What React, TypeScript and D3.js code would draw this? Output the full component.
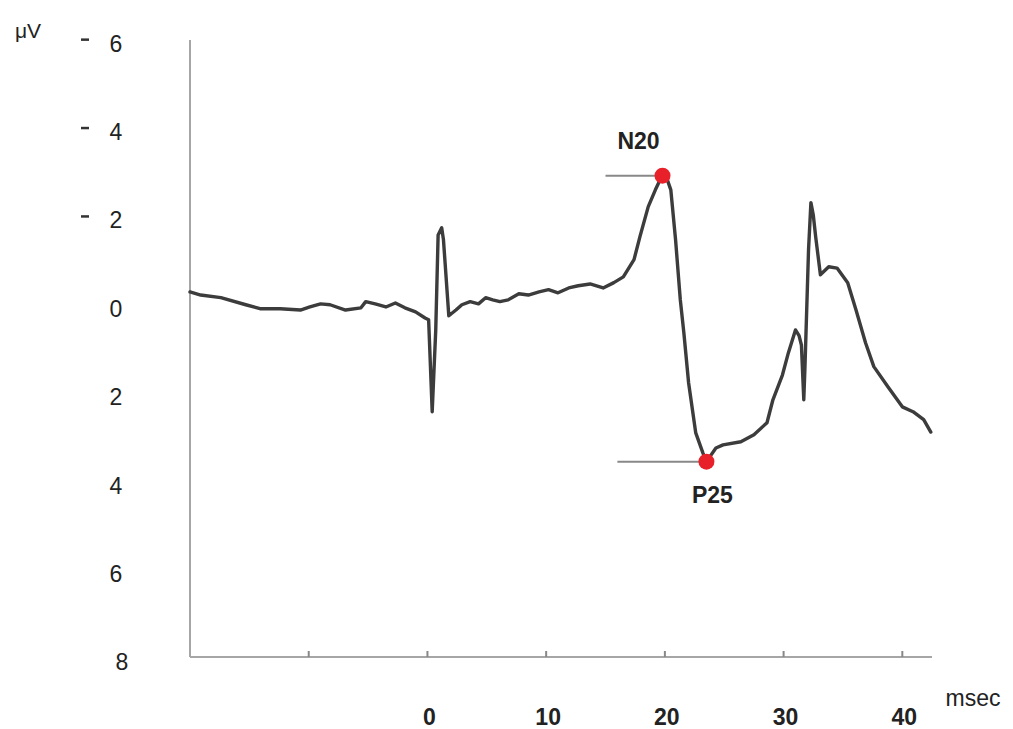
import React from "react";
import * as d3 from "d3";

// time (ms) of each sample
const timeMs = [
  -20.0, -19.1, -17.4, -15.3, -14.1, -12.4, -10.7, -9.9, -9.0, -8.2, -6.9, -5.6, -5.2, -4.4, -3.5, -2.7, -1.9, -1.0, -0.2,
  0.1, 0.4, 0.7, 0.9, 1.2, 1.35, 1.8, 2.4, 2.9, 3.6, 4.3, 4.9, 5.5, 6.1, 6.8, 7.7, 8.5, 9.4, 10.2, 11.0, 11.9, 12.7,
  13.7, 14.8, 15.7, 16.5, 17.4, 17.9, 18.6, 19.2, 19.6, 19.8, 20.2, 20.5, 20.9, 21.3, 21.6, 22.0, 22.6, 23.2, 23.5,
  24.3, 24.9, 26.4, 27.5, 28.6, 29.1, 29.9, 30.4, 31.0, 31.3, 31.5, 31.7, 31.8, 32.1, 32.3, 32.5, 32.7, 33.1, 33.8,
  34.5, 35.4, 36.1, 36.9, 37.6, 38.8, 40.0, 40.9, 41.8, 42.4,
];
// amplitude (µV), negative plotted upward
const amplitudeUV = [
  -0.36, -0.29, -0.23, -0.07, 0.02, 0.02, 0.05, -0.02, -0.09, -0.07, 0.05, 0.0, -0.14, -0.09, -0.02, -0.11, 0.0, 0.09, 0.23,
  0.27, 2.35, 0.5, -1.65, -1.81, -1.54, 0.18, 0.05, -0.07, -0.14, -0.09, -0.23, -0.18, -0.14, -0.18, -0.32, -0.29, -0.36,
  -0.41, -0.34, -0.45, -0.5, -0.54, -0.45, -0.57, -0.7, -1.09, -1.61, -2.29, -2.67, -2.9, -2.99, -2.9, -2.67, -1.54,
  -0.18, 0.57, 1.7, 2.83, 3.28, 3.48, 3.17, 3.1, 3.03, 2.87, 2.6, 2.08, 1.52, 1.02, 0.5, 0.63, 0.84, 2.08, 1.33, -1.31,
  -2.38, -2.1, -1.61, -0.75, -0.93, -0.9, -0.57, 0.05, 0.79, 1.33, 1.79, 2.24, 2.35, 2.53, 2.81,
];

const yTickValues = [-6, -4, -2, 0, 2, 4, 6, 8];
const xTickValues = [-10, 0, 10, 20, 30, 40];
const xTickLabels = [0, 10, 20, 30, 40];

const peakNames = ["N20", "P25"];
const peakTimes = [19.8, 23.5];
const peakAmps = [-2.99, 3.48];
const peakLineStart = [15.0, 16.0];

export default function App() {
  const x = d3.scaleLinear().domain([-20, 42.5]).range([190, 932]);
  const y = d3.scaleLinear().domain([-6.06, 7.9]).range([40, 657]);
  const pts = timeMs.map((t, i) => [t, amplitudeUV[i]] as [number, number]);
  const line = d3
    .line<[number, number]>()
    .x((d) => x(d[0]))
    .y((d) => y(d[1]))
    .curve(d3.curveLinear);
  const font = "Liberation Sans, Arial, Helvetica, sans-serif";
  return (
    <svg
      width={1013}
      height={729}
      style={{ position: "absolute", left: 0, top: 0, background: "#fff" }}
      fontFamily={font}
    >
      {/* axes */}
      <line x1={x(-20)} x2={x(-20)} y1={y(-6.06)} y2={y(7.9)} stroke="#a6a6a6" strokeWidth={2} />
      <line x1={x(-20)} x2={x(42.5)} y1={y(7.9)} y2={y(7.9)} stroke="#a6a6a6" strokeWidth={2} />
      {xTickValues.map((t) => (
        <line key={t} x1={x(t)} x2={x(t)} y1={y(7.9) - 6} y2={y(7.9)} stroke="#888" strokeWidth={2} />
      ))}
      {yTickValues.map((v) => (
        <g key={v}>
          {v < 0 && (
            <line x1={81} x2={89} y1={y(v) - 3} y2={y(v) - 3} stroke="#333" strokeWidth={2.5} />
          )}
          <text x={v === 8 ? 122 : 116} y={y(v) + 9} fontSize={23} textAnchor="middle" fill="#222">
            {Math.abs(v)}
          </text>
        </g>
      ))}
      <text x={28} y={38} fontSize={21} textAnchor="middle" fill="#222">
        μV
      </text>
      {xTickLabels.map((t) => (
        <text key={t} x={x(t) + 2} y={725} fontSize={23} fontWeight="bold" textAnchor="middle" fill="#222">
          {t}
        </text>
      ))}
      <text x={973} y={706} fontSize={23} textAnchor="middle" fill="#222">
        msec
      </text>
      {/* peak reference lines */}
      {peakNames.map((n, i) => (
        <line
          key={n}
          x1={x(peakLineStart[i])}
          x2={x(peakTimes[i])}
          y1={y(peakAmps[i])}
          y2={y(peakAmps[i])}
          stroke="#888"
          strokeWidth={2}
        />
      ))}
      {/* trace */}
      <path d={line(pts) || ""} fill="none" stroke="#3c3c3c" strokeWidth={3.4} strokeLinejoin="round" strokeLinecap="round" />
      {peakNames.map((n, i) => (
        <g key={n}>
          <circle cx={x(peakTimes[i])} cy={y(peakAmps[i])} r={8} fill="#e8202a" />
          <text
            x={i === 0 ? x(peakTimes[i]) - 24 : x(peakTimes[i]) + 6}
            y={i === 0 ? y(peakAmps[i]) - 27 : y(peakAmps[i]) + 41}
            fontSize={23}
            fontWeight="bold"
            textAnchor="middle"
            fill="#222"
          >
            {n}
          </text>
        </g>
      ))}
    </svg>
  );
}
